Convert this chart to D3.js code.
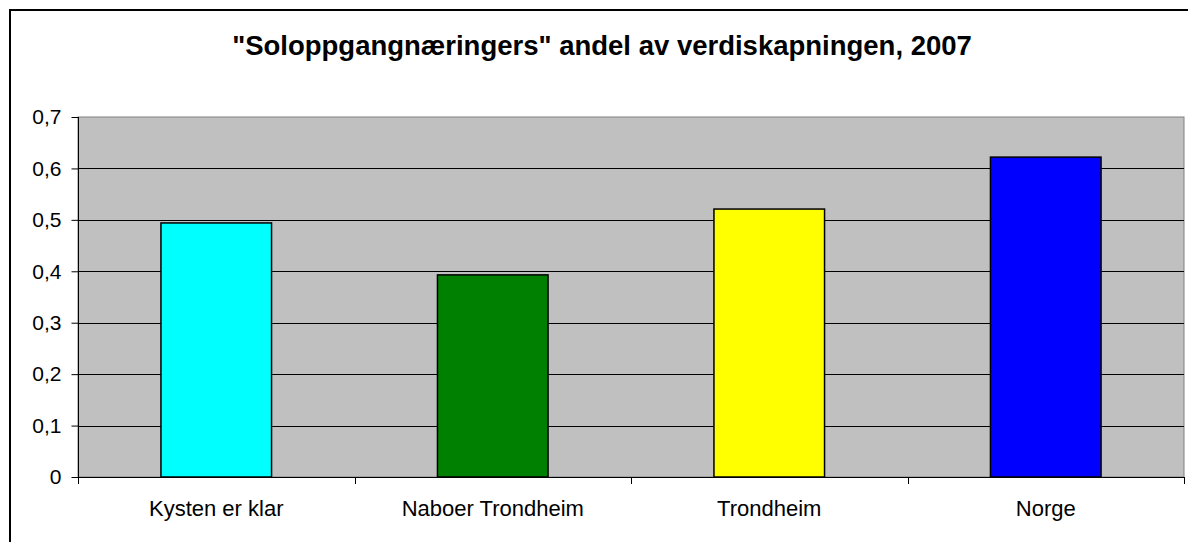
<!DOCTYPE html>
<html>
<head>
<meta charset="utf-8">
<script src="https://cdn.jsdelivr.net/npm/d3@7"></script>
<style>
  body { margin: 0; background: #fff; }
  text { font-family: "Liberation Sans", Arial, sans-serif; fill: #000; }
</style>
</head>
<body>
<div id="chart"></div>
<script>
// data
var categories = ["Kysten er klar", "Naboer Trondheim", "Trondheim", "Norge"];
var values = [0.494, 0.393, 0.521, 0.622];
var barColors = ["#00FFFF", "#008000", "#FFFF00", "#0000FF"];
var yTicks = [0, 0.1, 0.2, 0.3, 0.4, 0.5, 0.6, 0.7];
var title = "\"Soloppgangnæringers\" andel av verdiskapningen, 2007";

var width = 1188, height = 542;
var plot = {left: 78, right: 1184, top: 117, bottom: 477};

var svg = d3.select("#chart")
    .append("svg")
    .attr("width", width)
    .attr("height", height);

// outer chart frame (runs off right and bottom edge)
svg.append("rect")
    .attr("x", 10).attr("y", 10)
    .attr("width", 1200).attr("height", 600)
    .attr("fill", "#fff")
    .attr("stroke", "#000")
    .attr("stroke-width", 2);

var x = d3.scaleBand()
    .domain(categories)
    .range([plot.left, plot.right])
    .paddingInner(0.6)
    .paddingOuter(0.3);

var xOuter = d3.scaleBand()
    .domain(categories)
    .range([plot.left, plot.right]);

var y = d3.scaleLinear()
    .domain([0, 0.7])
    .range([plot.bottom, plot.top]);

// plot background
svg.append("rect")
    .attr("x", plot.left).attr("y", plot.top)
    .attr("width", plot.right - plot.left)
    .attr("height", plot.bottom - plot.top)
    .attr("fill", "#C0C0C0")
    .attr("stroke", "#808080")
    .attr("stroke-width", 1);

// gridlines
svg.selectAll(".grid")
    .data(yTicks.filter(function(d){ return d > 0 && d < 0.7; }))
    .enter().append("line")
    .attr("class", "grid")
    .attr("x1", plot.left).attr("x2", plot.right)
    .attr("y1", function(d){ return Math.round(y(d)) + 0.5; })
    .attr("y2", function(d){ return Math.round(y(d)) + 0.5; })
    .attr("stroke", "#000")
    .attr("stroke-width", 1);

// bars
svg.selectAll(".bar")
    .data(values)
    .enter().append("rect")
    .attr("class", "bar")
    .attr("x", function(d, i){ return x(categories[i]); })
    .attr("width", x.bandwidth())
    .attr("y", function(d){ return y(d); })
    .attr("height", function(d){ return y(0) - y(d); })
    .attr("fill", function(d, i){ return barColors[i]; })
    .attr("stroke", "#000")
    .attr("stroke-width", 1.5);

// y axis
var yAxis = d3.axisLeft(y)
    .tickValues(yTicks)
    .tickSize(7)
    .tickPadding(10)
    .tickFormat(function(d){ return d === 0 ? "0" : d3.format(".1f")(d).replace(".", ","); });

var gy = svg.append("g")
    .attr("transform", "translate(" + (plot.left + 0.5) + ",0)")
    .call(yAxis);
gy.select(".domain").attr("d", "M0," + (plot.top) + "V" + (plot.bottom + 6)).attr("stroke", "#000");
gy.selectAll("text").style("font-size", "21px").attr("fill", "#000");

// x axis baseline + category boundary ticks
svg.append("line")
    .attr("x1", plot.left).attr("x2", plot.right)
    .attr("y1", plot.bottom + 0.5).attr("y2", plot.bottom + 0.5)
    .attr("stroke", "#000");

var bounds = categories.map(function(c){ return xOuter(c); }).concat([plot.right]);
svg.selectAll(".xtick")
    .data(bounds)
    .enter().append("line")
    .attr("x1", function(d){ return Math.round(d) + 0.5; })
    .attr("x2", function(d){ return Math.round(d) + 0.5; })
    .attr("y1", plot.bottom).attr("y2", plot.bottom + 7)
    .attr("stroke", "#000");

svg.selectAll(".xlabel")
    .data(categories)
    .enter().append("text")
    .attr("x", function(d){ return x(d) + x.bandwidth() / 2; })
    .attr("y", 516)
    .attr("text-anchor", "middle")
    .style("font-size", "22px")
    .text(function(d){ return d; });

// title
svg.append("text")
    .attr("x", 602)
    .attr("y", 55)
    .attr("text-anchor", "middle")
    .style("font-size", "27.5px")
    .style("font-weight", "bold")
    .text(title);
</script>
</body>
</html>
